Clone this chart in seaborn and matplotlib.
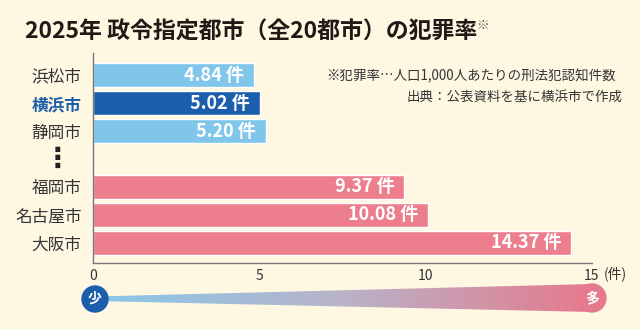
import numpy as np
import pandas as pd
import seaborn as sns
import matplotlib.pyplot as plt
from matplotlib.colors import LinearSegmentedColormap
from matplotlib.patches import Polygon, Circle
from matplotlib.transforms import blended_transform_factory

cities = ['浜松市', '横浜市', '静岡市', '福岡市', '名古屋市', '大阪市']
rates = [4.84, 5.02, 5.20, 9.37, 10.08, 14.37]
bar_colors = ['#80C6EA', '#1B5EAB', '#80C6EA', '#EC7E8D', '#EC7E8D', '#EC7E8D']
gap = '⋮'
order = cities[:3] + [gap] + cities[3:]
xticks = [0, 5, 10, 15]

bg = '#FEF8E2'
sns.set_style('white')
plt.rcParams['font.family'] = ['Noto Sans CJK JP', 'DejaVu Sans']

fig = plt.figure(figsize=(6.4, 3.29), dpi=100, facecolor=bg)
ax = fig.add_axes([92.7 / 640, 1 - 263 / 329, 499 / 640, 210 / 329])
ax.set_facecolor(bg)

df = pd.DataFrame({'city': cities, 'rate': rates})
sns.barplot(data=df, x='rate', y='city', hue='city', order=order, hue_order=cities,
            palette=dict(zip(cities, bar_colors)), orient='h', width=0.88,
            saturation=1, legend=False, ax=ax)

ax.set_xlim(0, 15)
ax.set_ylim(6.72, -0.79)
ax.set_xlabel('')
ax.set_ylabel('')

# value labels inside bars
for cont in ax.containers:
    texts = ax.bar_label(cont, fmt='{:.2f} 件', padding=-7, color='white',
                         fontsize=13, fontweight='bold')
    for t in texts:
        t.set_ha('right')

ax.set_xticks(xticks)
ax.tick_params(axis='x', direction='in', length=5, color='#777777', labelsize=10,
               labelcolor='#333333', pad=4)
ax.set_yticks(range(len(order)))
ax.set_yticklabels(['' if c == gap else c for c in order])
ax.tick_params(axis='y', length=0, pad=8, labelsize=12, labelcolor='#333333')
for lbl in ax.get_yticklabels():
    if lbl.get_text() == '横浜市':
        lbl.set_color('#1B5EAB')
        lbl.set_fontweight('bold')

sns.despine(ax=ax)
for s in ['left', 'bottom']:
    ax.spines[s].set_color('#777777')
    ax.spines[s].set_linewidth(1)

trans = blended_transform_factory(ax.transAxes, ax.transData)
ax.text(-0.070, order.index(gap), gap, transform=trans, ha='center', va='center',
        fontsize=20, fontweight='bold', family='DejaVu Sans', color='#222222')

ax.annotate('(件)', xy=(15, 0), xycoords=('data', 'axes fraction'), xytext=(9, -8),
            textcoords='offset points', ha='left', va='center', fontsize=10,
            color='#333333', annotation_clip=False)

title = fig.text(25 / 640, 1 - 32 / 329, '2025年 政令指定都市（全20都市）の犯罪率',
                 fontsize=16.5, fontweight='bold', va='center', color='#231815')
ax.annotate('※', xy=(1.0, 1.0), xycoords=title, xytext=(-1, 1), textcoords='offset points',
            ha='left', va='top', fontsize=9, color='#555555')

fig.text(616 / 640, 1 - 76 / 329, '※犯罪率…人口1,000人あたりの刑法犯認知件数',
         ha='right', va='center', fontsize=9.7, color='#333333')
fig.text(623 / 640, 1 - 97 / 329, '出典：公表資料を基に横浜市で作成',
         ha='right', va='center', fontsize=9.7, color='#333333')

# 少 -> 多 gradient strip
gax = fig.add_axes([0, 0, 1, 50 / 329])
gax.set_xlim(0, 640)
gax.set_ylim(329, 279)
gax.axis('off')
cmap = LinearSegmentedColormap.from_list('sm', ['#88C8EA', '#B9B3C9', '#E57A8C'])
grad = np.linspace(0, 1, 256).reshape(1, -1)
im = gax.imshow(grad, cmap=cmap, extent=(95, 592, 313, 283), aspect='auto', zorder=1)
wedge = Polygon([(95, 296.5), (592, 284), (592, 312), (95, 301)], closed=True,
                facecolor='none', edgecolor='none')
gax.add_patch(wedge)
im.set_clip_path(wedge)
gax.add_patch(Circle((592, 298), 14, color=cmap(1.0), zorder=2))
gax.add_patch(Circle((95, 299), 13, color='#1B5EAB', zorder=3))
gax.text(95, 299, '少', color='white', fontsize=10, fontweight='bold', ha='center', va='center', zorder=4)
gax.text(592, 298, '多', color='white', fontsize=10, fontweight='bold', ha='center', va='center', zorder=4)

fig.savefig('out.png', dpi=100, facecolor=bg)
